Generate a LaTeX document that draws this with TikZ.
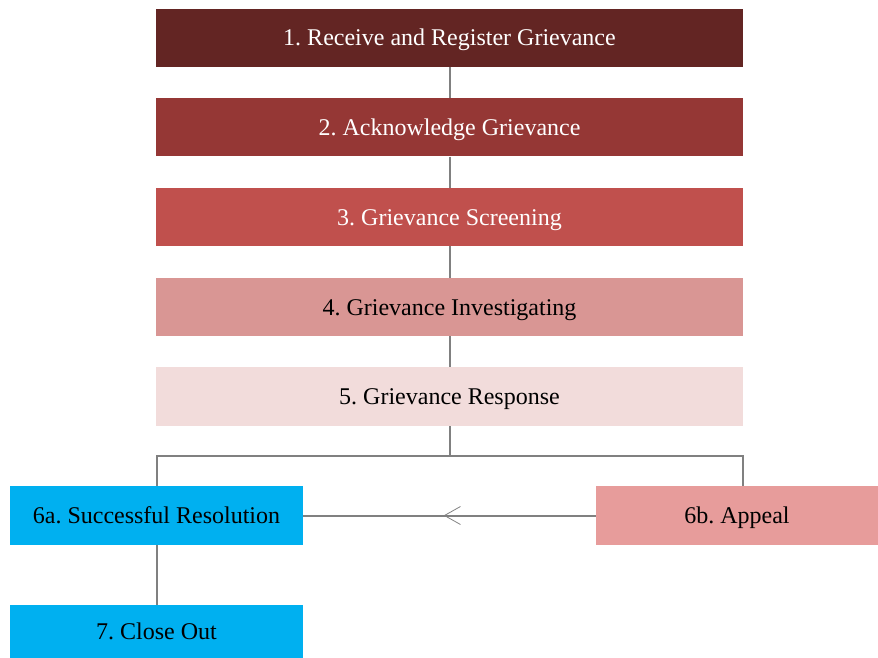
\documentclass[tikz,border=0pt]{standalone}
\usepackage{fontspec}
\setmainfont{Liberation Serif}
\usetikzlibrary{arrows.meta,decorations.markings}
\frenchspacing

\definecolor{stepA}{HTML}{632523}
\definecolor{stepB}{HTML}{953735}
\definecolor{stepC}{HTML}{C0504D}
\definecolor{stepD}{HTML}{D99694}
\definecolor{stepE}{HTML}{F2DCDB}
\definecolor{stepBlue}{HTML}{00B0F0}
\definecolor{stepPink}{HTML}{E79C9B}
\definecolor{linkgray}{HTML}{808080}

\tikzset{
  stepbox/.style={rectangle,inner sep=0pt,minimum width=587pt,
    minimum height=58pt,text height=19pt,text depth=3pt,
    font=\fontsize{24}{27}\selectfont},
  sidebox/.style={rectangle,inner sep=0pt,minimum width=293pt,
    minimum height=59pt,text height=19pt,text depth=3pt,
    font=\fontsize{24}{27}\selectfont},
  link/.style={draw=linkgray,line width=2pt},
  midarrow/.style={postaction={decorate},decoration={markings,
    mark=at position 0.52 with {\arrow[line width=0.8pt]{Straight Barb[length=16pt,width=18pt]}}}}
}

\begin{document}
\begin{tikzpicture}[x=1pt,y=-1pt]
  \useasboundingbox (0,0) rectangle (878,658);
  \node[stepbox,fill=stepA,text=white] (recv) at (449.5,38) {1. Receive and Register Grievance};
  \node[stepbox,fill=stepB,text=white] (ack) at (449.5,127.5) {2. Acknowledge Grievance};
  \node[stepbox,fill=stepC,text=white] (screen) at (449.5,217) {3. Grievance Screening};
  \node[stepbox,fill=stepD] (invest) at (449.5,307) {4. Grievance Investigating};
  \node[stepbox,fill=stepE,minimum height=59pt] (resp) at (449.5,396.5) {5. Grievance Response};
  \node[sidebox,fill=stepBlue] (succ) at (156.5,515.5) {6a. Successful Resolution};
  \node[sidebox,fill=stepPink,minimum width=282pt] (appeal) at (737,515.5) {6b. Appeal};
  \node[sidebox,fill=stepBlue,minimum height=53pt] (close) at (156.5,631.5) {7. Close Out};

  \draw[link] (recv) -- (ack);
  \draw[link] (ack) -- (screen);
  \draw[link] (screen) -- (invest);
  \draw[link] (invest) -- (resp);
  \coordinate (split) at (449.5,456);
  \draw[link] (resp.south) -- (split) -| (succ.north);
  \draw[link] (split) -| (appeal.north -| 743,0);
  \draw[link,midarrow] (appeal) -- (succ);
  \draw[link] (succ) -- (close);
\end{tikzpicture}
\end{document}
